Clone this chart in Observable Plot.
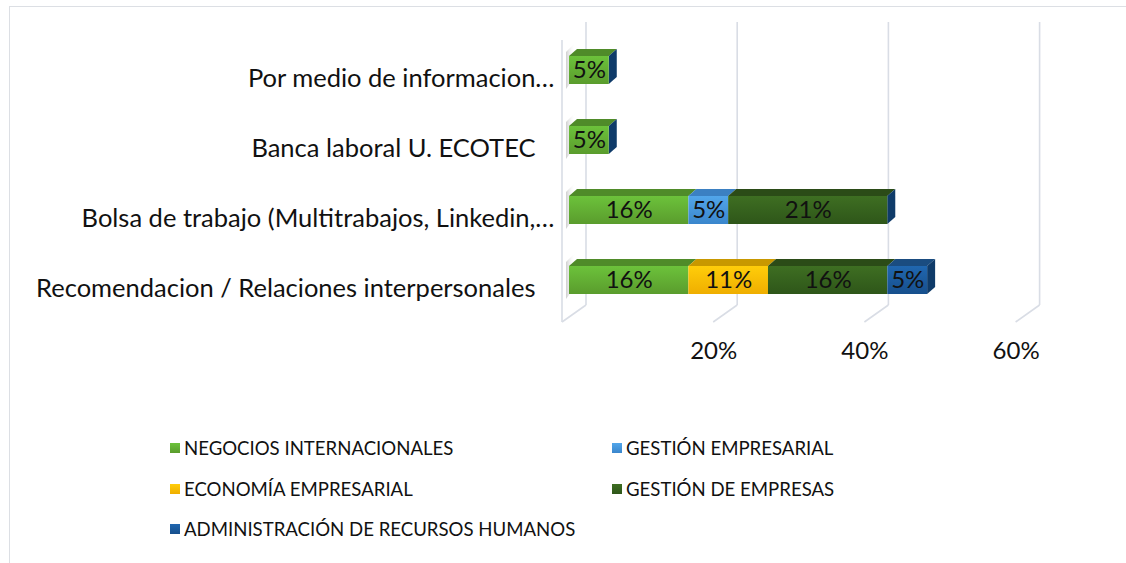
<!DOCTYPE html>
<html><head><meta charset="utf-8">
<script src="https://cdn.jsdelivr.net/npm/d3@7"></script>
<script src="https://cdn.jsdelivr.net/npm/@observablehq/plot@0.6"></script>
<style>
body{margin:0;background:#fff;}
#wrap{position:relative;width:1126px;height:563px;overflow:hidden;font-family:Lato,sans-serif;background:#fff;}
#frame{position:absolute;left:9px;top:6px;width:1300px;height:700px;border-top:1.5px solid #dcdfe4;border-left:1.5px solid #dcdfe4;}
#chart{position:absolute;left:0;top:0;}
.leg{position:absolute;display:flex;align-items:center;font-size:18.6px;color:#111;white-space:nowrap;transform:translateY(-50%);}
.sw{width:10px;height:10px;margin-right:4px;}
</style></head><body>
<div id="wrap"><div id="frame"></div><div id="chart"></div></div>
<script>
// ---- data ----
const categories = [
  "Por medio de informacion…",
  "Banca laboral U. ECOTEC",
  "Bolsa de trabajo (Multitrabajos, Linkedin,…",
  "Recomendacion / Relaciones interpersonales"
];
const seriesNames = [
  "NEGOCIOS INTERNACIONALES",
  "GESTIÓN EMPRESARIAL",
  "ECONOMÍA EMPRESARIAL",
  "GESTIÓN DE EMPRESAS",
  "ADMINISTRACIÓN DE RECURSOS HUMANOS"
];
const negocios          = [5.26, 5.26, 15.79, 15.79];
const gestionEmpresarial= [0,    0,    5.26,  0];
const economia          = [0,    0,    0,     10.53];
const gestionEmpresas   = [0,    0,    21.05, 15.79];
const admin             = [0,    0,    0,     5.26];
const tickValues = [20, 40, 60];

// ---- styles ----
const frontTop    = ["#6cc23b", "#52a6ea", "#ffcd0a", "#3e6e22", "#2067b0"];
const frontBottom = ["#5a9c2d", "#3a86cc", "#efae00", "#2e5619", "#174f8c"];
const topFace     = ["#4f8b29", "#3b80c2", "#c89800", "#2b4b17", "#1a4c80"];
const sideFace    = "#0f3b69";

const seriesValues = [negocios, gestionEmpresarial, economia, gestionEmpresas, admin];
const rows = [];
seriesValues.forEach((vals, si) => {
  vals.forEach((v, ci) => {
    if (v > 0) rows.push({cat: categories[ci], series: seriesNames[si], si, value: v, grad: `url(#grad${si})`});
  });
});
rows.sort((a, b) => a.si - b.si);

const FONT = "Lato, sans-serif";

function scene(index, scales) {
  const x = scales.x, y = scales.y;
  const bw = y.bandwidth ? y.bandwidth() : 28;
  const g = d3.create("svg:g");
  const defs = g.append("defs");
  seriesNames.forEach((s, i) => {
    const lg = defs.append("linearGradient").attr("id", "grad" + i)
      .attr("x1", 0).attr("y1", 0).attr("x2", 0).attr("y2", 1);
    lg.append("stop").attr("offset", "0%").attr("stop-color", frontTop[i]);
    lg.append("stop").attr("offset", "100%").attr("stop-color", frontBottom[i]);
  });
  const sh = defs.append("linearGradient").attr("id", "shadow").attr("x1", 0).attr("y1", 0).attr("x2", 1).attr("y2", 0);
  sh.append("stop").attr("offset", "0%").attr("stop-color", "#cfcfcf");
  sh.append("stop").attr("offset", "100%").attr("stop-color", "#ffffff").attr("stop-opacity", 0);

  // walls & gridlines
  const backTop = 22, floorBack = 305, floorFront = 322;
  const grid = "#d9dde5";
  const gridVals = [0].concat(tickValues);
  gridVals.forEach(v => {
    const bx = x(v) + 17, fx = x(v) - 7;
    g.append("line").attr("x1", bx).attr("x2", bx).attr("y1", backTop).attr("y2", floorBack)
      .attr("stroke", grid).attr("stroke-width", 1.6);
    g.append("line").attr("x1", bx).attr("x2", fx).attr("y1", floorBack).attr("y2", floorFront)
      .attr("stroke", grid).attr("stroke-width", 1.6);
  });
  const lx = x(0) - 7;
  g.append("line").attr("x1", lx).attr("x2", lx).attr("y1", 40).attr("y2", floorFront)
    .attr("stroke", grid).attr("stroke-width", 1.6);

  // bar 3D faces
  const dx = 8, dy = 7;
  categories.forEach((c, ci) => {
    const y0 = y(c), y1 = y0 + bw;
    const x0 = x(0);
    g.append("polygon").attr("points", [[x0 - 3, y0 - 4], [x0 + 6, y0 - 13], [x0 + 6, y1 - 7], [x0 - 3, y1 + 5]].join(" "))
      .attr("fill", "url(#shadow)");
    let acc = 0;
    seriesValues.forEach((vals, si) => {
      const v = vals[ci];
      if (!(v > 0)) return;
      const a = x(acc), b = x(acc + v);
      g.append("polygon").attr("points", [[a, y0], [b, y0], [b + dx, y0 - dy], [a + dx, y0 - dy]].join(" "))
        .attr("fill", topFace[si]);
      acc += v;
    });
    const e = x(acc);
    g.append("polygon").attr("points", [[e, y0], [e + dx, y0 - dy], [e + dx, y1 - dy], [e, y1]].join(" "))
      .attr("fill", sideFace);
  });
  return g.node();
}

const full = categories.filter(c => !c.endsWith("…"));
const trunc = categories.filter(c => c.endsWith("…"));

const chart = Plot.plot({
  width: 1126,
  height: 410,
  marginLeft: 0, marginRight: 0, marginTop: 0, marginBottom: 0,
  style: {fontFamily: FONT, background: "transparent", overflow: "visible"},
  x: {domain: [0, 60], range: [569, 569 + 60 * 7.56], axis: null},
  y: {domain: categories, range: [12.3, 337.7], padding: 0.604, axis: null},
  color: {type: "identity"},
  marks: [
    scene,
    Plot.barX(rows, Plot.stackX({y: "cat", x: "value", fill: "grad", z: "series"})),
    Plot.text(rows, Plot.stackX({y: "cat", x: "value", z: "series", text: d => Math.round(d.value) + "%",
      fill: "#111", fontSize: 24, fontFamily: FONT})),
    Plot.text(full, {x: () => 0, y: d => d, text: d => d, textAnchor: "end", dx: -34, dy: 8,
      fontSize: 25.5, fontFamily: FONT, fill: "#111"}),
    Plot.text(trunc, {x: () => 0, y: d => d, text: d => d, textAnchor: "end", dx: -15, dy: 8,
      fontSize: 25.5, fontFamily: FONT, fill: "#111"}),
    Plot.text(tickValues, {x: d => d, text: d => d + "%", frameAnchor: "bottom", dx: -7, dy: -52,
      fontSize: 24, fontFamily: FONT, fill: "#111"})
  ]
});
document.getElementById("chart").appendChild(chart);

// legend
const legPos = [[170, 448], [612, 448], [170, 489], [612, 489], [170, 529]];
const wrap = document.getElementById("wrap");
seriesNames.forEach((s, i) => {
  const d = document.createElement("div");
  d.className = "leg";
  d.style.left = legPos[i][0] + "px";
  d.style.top = legPos[i][1] + "px";
  const sw = document.createElement("span");
  sw.className = "sw";
  sw.style.background = `linear-gradient(${frontTop[i]}, ${frontBottom[i]})`;
  d.appendChild(sw);
  d.appendChild(document.createTextNode(s));
  wrap.appendChild(d);
});
</script>
</body></html>
